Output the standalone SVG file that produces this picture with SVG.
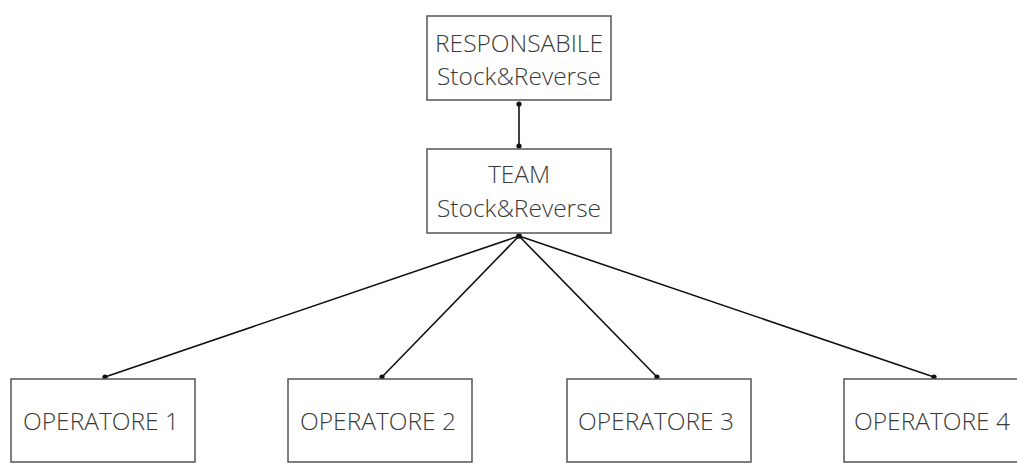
<svg xmlns="http://www.w3.org/2000/svg" width="1017" height="464" viewBox="0 0 1017 464">
  <style>
    .box { fill: #ffffff; stroke: #555555; stroke-width: 1.5; }
    .lbl { font-family: "Open Sans", "Liberation Sans", sans-serif; font-weight: 300; font-size: 24.5px; fill: #3a3a3a; text-anchor: middle; }
    .edge { stroke: #111111; stroke-width: 1.6; fill: none; }
    .dot { fill: #111111; }
  </style>
  <rect width="1017" height="464" fill="#ffffff"/>

  <g id="connectors">
    <line class="edge" x1="519" y1="104" x2="519" y2="146"/>
    <circle class="dot" cx="519" cy="104" r="2.6"/>
    <circle class="dot" cx="519" cy="146" r="2.6"/>
    <line class="edge" x1="519" y1="236" x2="105" y2="377"/>
    <line class="edge" x1="519" y1="236" x2="382" y2="377"/>
    <line class="edge" x1="519" y1="236" x2="657" y2="377"/>
    <line class="edge" x1="519" y1="236" x2="934" y2="377"/>
    <circle class="dot" cx="519" cy="236" r="2.8"/>
    <circle class="dot" cx="105" cy="377" r="2.6"/>
    <circle class="dot" cx="382" cy="377" r="2.6"/>
    <circle class="dot" cx="657" cy="377" r="2.6"/>
    <circle class="dot" cx="934" cy="377" r="2.6"/>
  </g>

  <g id="responsabile">
    <rect class="box" x="427" y="16" width="184" height="84"/>
    <text class="lbl" x="519" y="52">RESPONSABILE</text>
    <text class="lbl" x="519" y="85">Stock&amp;Reverse</text>
  </g>

  <g id="team">
    <rect class="box" x="427" y="149" width="184" height="84"/>
    <text class="lbl" x="519" y="183">TEAM</text>
    <text class="lbl" x="519" y="217">Stock&amp;Reverse</text>
  </g>

  <g id="operatore1">
    <rect class="box" x="11" y="379" width="184" height="83"/>
    <text class="lbl" x="101" y="430">OPERATORE 1</text>
  </g>

  <g id="operatore2">
    <rect class="box" x="288" y="379" width="184" height="83"/>
    <text class="lbl" x="378" y="430">OPERATORE 2</text>
  </g>

  <g id="operatore3">
    <rect class="box" x="567" y="379" width="184" height="83"/>
    <text class="lbl" x="656" y="430">OPERATORE 3</text>
  </g>

  <g id="operatore4">
    <rect class="box" x="844" y="379" width="184" height="83"/>
    <text class="lbl" x="932" y="430">OPERATORE 4</text>
  </g>
</svg>
